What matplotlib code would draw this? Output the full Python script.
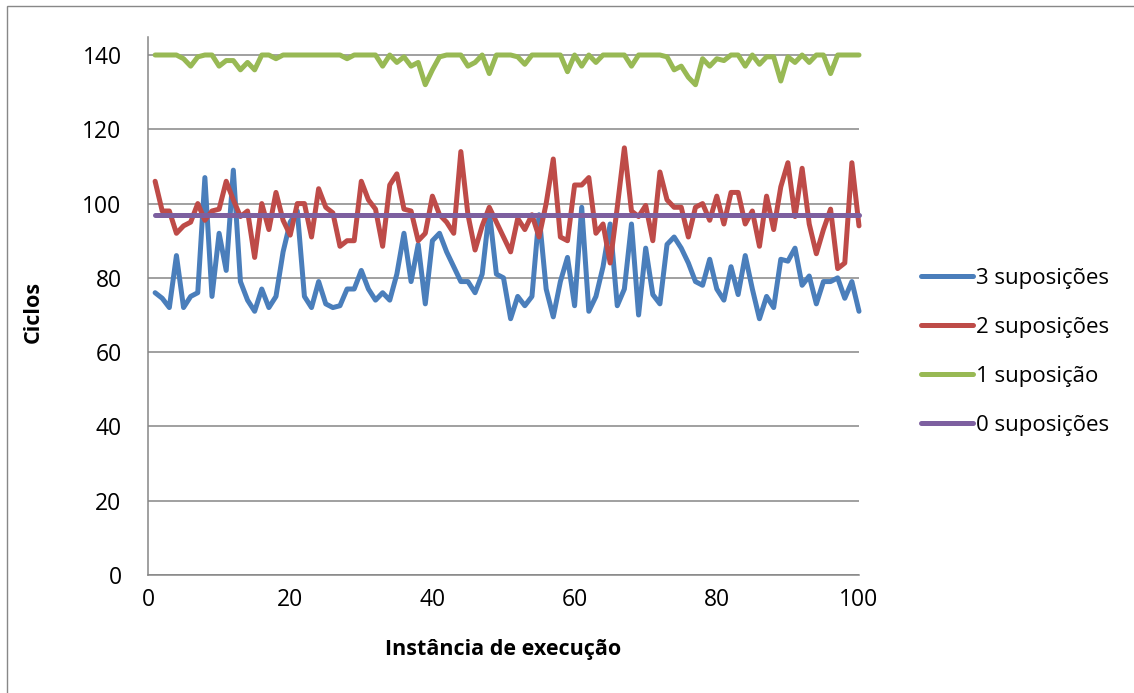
import numpy as np
import matplotlib
matplotlib.use("Agg")
from matplotlib import pyplot as plt
from matplotlib.patches import Rectangle

# instance numbers 1..100
x = list(range(1, 101))

s3 = [76, 74.5, 72, 86, 72, 75, 76, 107, 75, 92,
      82, 109, 79, 74, 71, 77, 72, 75, 87, 95,
      98, 75, 72, 79, 73, 72, 72.5, 77, 77, 82,
      77, 74, 76, 74, 81, 92, 79, 89, 73, 90,
      92, 87, 83, 79, 79, 76, 81, 98, 81, 80,
      69, 75, 72.5, 75, 97, 77, 69.5, 79, 85.5, 72.5,
      99, 71, 75, 83, 94.5, 72.5, 77, 94.5, 70, 88,
      75.5, 73, 89, 91, 88, 84, 79, 78, 85, 77,
      74, 83, 75.5, 86, 77, 69, 75, 72, 85, 84.5,
      88, 78, 80.5, 73, 79, 79, 80, 74.5, 79, 71]

s2 = [106, 98, 98, 92, 94, 95, 100, 95.5, 98, 98.5,
      106, 101, 96.5, 98, 85.5, 100, 93, 103, 95.5, 91.5,
      100, 100, 91, 104, 99, 97.5, 88.5, 90, 90, 106,
      101, 98.5, 88.5, 105, 108, 98.5, 98, 90, 92, 102,
      97, 95, 92, 114, 97, 87.5, 94, 99, 95, 91,
      87, 96, 93, 97, 91, 100, 112, 91, 90, 105,
      105, 107, 92, 94.5, 84, 99, 115, 98, 96.5, 99.5,
      90, 108.5, 101, 99, 99, 91, 99, 100, 95.5, 102,
      94.5, 103, 103, 94.5, 98, 88.5, 102, 93, 104.5, 111,
      96.5, 109.5, 94.5, 86.5, 93, 98.5, 82.5, 84, 111, 94]

s1 = [140, 140, 140, 140, 139, 137, 139.5, 140, 140, 137,
      138.5, 138.5, 136, 138, 136, 140, 140, 139, 140, 140,
      140, 140, 140, 140, 140, 140, 140, 139, 140, 140,
      140, 140, 137, 140, 138, 139.5, 137, 138, 132, 136,
      139.5, 140, 140, 140, 137, 138, 140, 135, 140, 140,
      140, 139.5, 137.5, 140, 140, 140, 140, 140, 135.5, 140,
      137, 140, 138, 140, 140, 140, 140, 137, 140, 140,
      140, 140, 139.5, 136, 137, 134, 132, 139, 137, 139,
      138.5, 140, 140, 137, 140, 137.5, 139.5, 139.5, 133, 139.5,
      138, 140, 138, 140, 140, 135, 140, 140, 140, 140]

s0 = [97] * 100

labels = ["3 suposições", "2 suposições", "1 suposição", "0 suposições"]
colors = ["#4A7EBB", "#BE4B48", "#98B954", "#7D60A0"]

plt.rcParams['font.family'] = ['Open Sans', 'DejaVu Sans']

fig = plt.figure(figsize=(11.34, 6.93), dpi=100)
W, H = 1134, 693
ax = fig.add_axes([148 / W, (H - 575) / H, (859 - 148) / W, (575 - 37) / H])

for ys, c, lab in zip([s3, s2, s1, s0], colors, labels):
    ax.plot(x, ys, color=c, lw=3.6, label=lab, clip_on=False,
            solid_joinstyle='round', solid_capstyle='round')

ax.set_xlim(0, 100)
ax.set_ylim(0, 140 * (575 - 37) / (575 - 55))
ax.set_xticks(range(0, 101, 20))
ax.set_yticks(range(0, 141, 20))
ax.tick_params(length=0, labelsize=16.5, colors='black')
ax.tick_params(axis='x', pad=9)
ax.tick_params(axis='y', pad=19)
ax.grid(axis='y', color='#868686', lw=1.1)
ax.set_axisbelow(True)
for side in ['top', 'right']:
    ax.spines[side].set_visible(False)
for side in ['left', 'bottom']:
    ax.spines[side].set_color('#868686')
    ax.spines[side].set_linewidth(1.1)

ax.set_xlabel('Instância de execução', fontsize=15.5, fontweight='bold', va='center')
ax.set_ylabel('Ciclos', fontsize=15.5, fontweight='bold', va='center')
ax.xaxis.set_label_coords(0.5, (575 - 649) / 538)
ax.yaxis.set_label_coords((33 - 148) / 711, (575 - 312) / 538)

fig.legend(loc='center left', bbox_to_anchor=(910 / W, 1 - 352 / H),
           frameon=False, fontsize=16, handlelength=2.35, handletextpad=0.1,
           labelspacing=1.26, borderpad=0)

# chart border (only left and top visible)
fig.add_artist(Rectangle((7 / W, -0.1), 1.2, (H - 6) / H + 0.1, transform=fig.transFigure,
                         fill=False, edgecolor='#888888', lw=1))

fig.savefig('out.png', dpi=100)
